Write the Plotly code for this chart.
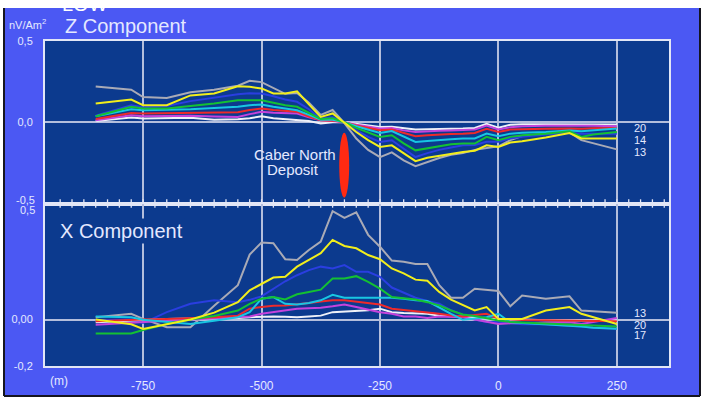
import plotly.graph_objects as go

# Station positions along the profile (m)
stations = [-850, -775, -750, -700, -650, -600, -550, -525, -500, -475, -450, -425,
            -400, -375, -350, -325, -300, -275, -250, -225, -200, -175, -150, -125,
            -100, -75, -50, -25, 0, 25, 50, 100, 150, 175, 200, 250]

# Z component, one list per channel (nV/Am2)
z_gray = [0.22, 0.20, 0.155, 0.15, 0.185, 0.20, 0.225, 0.255, 0.247, 0.21, 0.175, 0.18,
          0.12, 0.045, 0.075, -0.005, -0.10, -0.17, -0.215, -0.185, -0.235, -0.27, -0.245, -0.22,
          -0.20, -0.19, -0.17, -0.16, -0.148, -0.11, -0.085, -0.07, -0.062, -0.11, -0.13, -0.167]
z_yellow = [0.115, 0.14, 0.105, 0.105, 0.165, 0.177, 0.222, 0.218, 0.208, 0.177, 0.177, 0.19,
            0.11, 0.033, 0.054, -0.004, -0.06, -0.11, -0.152, -0.142, -0.19, -0.239, -0.218, -0.205,
            -0.193, -0.183, -0.175, -0.142, -0.152, -0.125, -0.117, -0.094, -0.066, -0.10, -0.10, -0.10]
z_blue = [0.04, 0.105, 0.093, 0.10, 0.13, 0.15, 0.173, 0.178, 0.177, 0.16, 0.14, 0.126,
          0.08, 0.023, 0.03, 0.0, -0.05, -0.09, -0.121, -0.111, -0.16, -0.214, -0.19, -0.17,
          -0.155, -0.142, -0.14, -0.12, -0.12, -0.10, -0.09, -0.075, -0.065, -0.07, -0.07, -0.07]
z_green = [0.037, 0.095, 0.085, 0.085, 0.10, 0.115, 0.136, 0.138, 0.136, 0.12, 0.105, 0.095,
           0.06, 0.02, 0.025, 0.0, -0.035, -0.065, -0.091, -0.08, -0.13, -0.173, -0.16, -0.145,
           -0.135, -0.131, -0.131, -0.09, -0.111, -0.09, -0.08, -0.07, -0.055, -0.09, -0.075, -0.06]
z_cyan = [0.037, 0.08, 0.074, 0.075, 0.08, 0.088, 0.095, 0.105, 0.109, 0.095, 0.085, 0.074,
          0.045, 0.015, 0.015, 0.0, -0.025, -0.045, -0.066, -0.054, -0.09, -0.121, -0.115, -0.108,
          -0.105, -0.10, -0.10, -0.07, -0.086, -0.07, -0.065, -0.06, -0.05, -0.055, -0.05, -0.039]
z_red = [0.02, 0.057, 0.054, 0.055, 0.058, 0.06, 0.062, 0.075, 0.085, 0.075, 0.068, 0.064,
         0.035, 0.012, 0.01, 0.0, -0.02, -0.035, -0.049, -0.045, -0.065, -0.086, -0.08, -0.075,
         -0.072, -0.07, -0.066, -0.04, -0.06, -0.045, -0.042, -0.04, -0.038, -0.04, -0.037, -0.035]
z_magenta = [0.012, 0.043, 0.037, 0.038, 0.04, 0.035, 0.033, 0.05, 0.064, 0.058, 0.055, 0.054,
             0.03, 0.012, 0.008, 0.0, -0.015, -0.028, -0.039, -0.035, -0.05, -0.06, -0.055, -0.052,
             -0.05, -0.049, -0.045, -0.02, -0.045, -0.03, -0.025, -0.022, -0.02, -0.022, -0.022, -0.025]
z_white = [0.008, 0.029, 0.023, 0.025, 0.027, 0.015, 0.018, 0.025, 0.037, 0.025, 0.018, 0.012,
           0.008, -0.008, 0.0, 0.0, -0.01, -0.02, -0.029, -0.028, -0.035, -0.045, -0.043, -0.04,
           -0.04, -0.039, -0.035, -0.01, -0.033, -0.015, -0.012, -0.012, -0.012, -0.012, -0.013, -0.014]

# X component, one list per channel (nV/Am2)
x_gray = [0.01, 0.025, 0.003, -0.033, -0.033, 0.06, 0.148, 0.28, 0.332, 0.329, 0.26, 0.257,
          0.30, 0.336, 0.467, 0.438, 0.462, 0.365, 0.314, 0.254, 0.249, 0.239, 0.239, 0.148,
          0.094, 0.094, 0.133, 0.128, 0.123, 0.057, 0.104, 0.09, 0.10, 0.039, 0.035, 0.029]
x_yellow = [0.0, -0.02, -0.04, -0.02, 0.0, 0.03, 0.075, 0.126, 0.155, 0.181, 0.184, 0.228,
            0.257, 0.286, 0.343, 0.317, 0.307, 0.278, 0.26, 0.22, 0.199, 0.172, 0.167, 0.119,
            0.086, 0.061, 0.039, 0.054, 0.003, 0.003, 0.003, 0.039, 0.054, 0.025, 0.01, -0.019]
x_blue = [-0.003, 0.0, -0.015, 0.032, 0.068, 0.083, 0.075, 0.085, 0.10, 0.133, 0.165, 0.191,
          0.213, 0.228, 0.22, 0.235, 0.206, 0.206, 0.184, 0.138, 0.115, 0.094, 0.08, 0.068,
          0.04, 0.02, 0.0, -0.01, -0.01, -0.015, -0.02, -0.02, -0.025, -0.03, -0.035, -0.04]
x_green = [-0.06, -0.06, -0.045, -0.019, 0.0, 0.015, 0.039, 0.068, 0.09, 0.097, 0.087, 0.109,
           0.119, 0.129, 0.177, 0.177, 0.187, 0.162, 0.133, 0.097, 0.092, 0.086, 0.075, 0.061,
           0.039, 0.022, 0.015, 0.005, -0.004, -0.01, -0.012, -0.015, -0.018, -0.022, -0.025, -0.03]
x_cyan = [0.013, 0.01, -0.001, -0.01, -0.019, -0.005, 0.01, 0.032, 0.09, 0.097, 0.068, 0.065,
          0.071, 0.083, 0.107, 0.094, 0.094, 0.094, 0.094, 0.094, 0.09, 0.083, 0.08, 0.051,
          0.025, -0.001, 0.005, 0.01, 0.025, -0.012, -0.015, -0.02, -0.025, -0.03, -0.035, -0.04]
x_red = [-0.007, 0.0, 0.0, 0.003, 0.005, 0.01, 0.017, 0.047, 0.054, 0.06, 0.061, 0.065,
         0.071, 0.078, 0.083, 0.083, 0.078, 0.071, 0.065, 0.047, 0.042, 0.036, 0.03, 0.025,
         0.018, 0.013, 0.02, 0.025, 0.003, 0.0, -0.002, -0.003, -0.005, -0.005, -0.006, -0.007]
x_magenta = [-0.022, -0.015, -0.01, -0.005, 0.0, 0.005, 0.01, 0.013, 0.025, 0.032, 0.04, 0.047,
             0.049, 0.051, 0.057, 0.065, 0.054, 0.043, 0.032, 0.025, 0.013, 0.013, 0.007, 0.013,
             0.01, 0.01, 0.0, -0.01, -0.019, -0.016, -0.015, -0.012, -0.012, -0.019, -0.01, 0.007]
x_white = [-0.012, -0.005, 0.0, 0.003, 0.005, 0.005, 0.007, 0.01, 0.012, 0.013, 0.012, 0.01,
           0.013, 0.017, 0.032, 0.034, 0.035, 0.04, 0.047, 0.032, 0.028, 0.025, 0.025, 0.017,
           0.015, 0.013, 0.01, 0.005, 0.003, 0.0, -0.002, -0.003, -0.004, -0.004, -0.004, -0.004]

# Axis ticks and labels
x_ticks = [-750, -500, -250, 0, 250]
x_tick_text = ["-750", "-500", "-250", "0", "250"]
z_ticks = [0.0, 0.5]
z_tick_text = ["0,0", "0,5"]
xc_ticks = [-0.2, 0.0]
xc_tick_text = ["-0,2", "0,00"]
z_end_labels = ["20", "14", "13"]
z_end_values = [-0.035, -0.11, -0.185]
x_end_labels = ["13", "20", "17"]
x_end_values = [0.03, -0.022, -0.066]
minor_step = 25
minor_start, minor_stop = -925, 350

BLUE_BG = "#4b58f3"
NAVY = "#0c3a8e"
FRAME = "#e2e6f6"
GRID = "#b4bedc"
TXT = "#e4e8ff"
FONT = "Liberation Sans, Arial, sans-serif"

series = [
    ("gray", "#a9aab6", z_gray, x_gray),
    ("blue", "#2a3ee0", z_blue, x_blue),
    ("white", "#eef0f8", z_white, x_white),
    ("magenta", "#c443dc", z_magenta, x_magenta),
    ("red", "#ee2a2a", z_red, x_red),
    ("cyan", "#18c6e2", z_cyan, x_cyan),
    ("green", "#14c033", z_green, x_green),
    ("yellow", "#f2ee1c", z_yellow, x_yellow),
]

fig = go.Figure()
for name, color, zv, xv in series:
    fig.add_trace(go.Scatter(x=stations, y=zv, mode="lines", name=name,
                             line=dict(color=color, width=2), xaxis="x", yaxis="y",
                             showlegend=False, hoverinfo="skip"))
    fig.add_trace(go.Scatter(x=stations, y=xv, mode="lines", name=name,
                             line=dict(color=color, width=2), xaxis="x2", yaxis="y2",
                             showlegend=False, hoverinfo="skip"))

# small station ticks along the bottom edge of the Z panel
tick_x = list(range(minor_start, minor_stop + 1, minor_step))
fig.add_trace(go.Scatter(x=tick_x, y=[-0.5] * len(tick_x), mode="markers",
                         marker=dict(symbol="line-ns-open", size=6, color=FRAME,
                                     line=dict(color=FRAME, width=1.3)),
                         xaxis="x", yaxis="y", cliponaxis=False,
                         showlegend=False, hoverinfo="skip"))

W, H = 703, 400
xdom = [45 / W, 669 / W]
split = 1 - 203.5 / H
ydom_top = [split, 1 - 41 / H]
ydom_bot = [1 - 366 / H, split]

axis_common = dict(showline=True, mirror=True, linecolor=FRAME, linewidth=2,
                   ticks="", automargin=False)

fig.update_layout(
    width=W, height=H,
    margin=dict(l=0, r=0, t=0, b=0, pad=0),
    paper_bgcolor="white",
    plot_bgcolor="rgba(0,0,0,0)",
    font=dict(family=FONT, color=TXT, size=12),
    xaxis=dict(domain=xdom, range=[-957, 360], anchor="y", tickvals=x_ticks,
               showticklabels=False, showgrid=True, gridcolor=GRID, gridwidth=1.5,
               zeroline=False, **axis_common),
    yaxis=dict(domain=ydom_top, range=[-0.5, 0.5], anchor="x", tickvals=z_ticks,
               ticktext=z_tick_text, showgrid=False, ticklabelstandoff=8,
               tickfont=dict(size=11, color=TXT), zeroline=True,
               zerolinecolor=GRID, zerolinewidth=1.5, **axis_common),
    xaxis2=dict(domain=xdom, range=[-957, 360], anchor="y2", tickvals=x_ticks,
                ticktext=x_tick_text, showgrid=True, gridcolor=GRID, gridwidth=1.5,
                zeroline=False, ticklabelstandoff=8, tickfont=dict(size=12, color=TXT),
                **axis_common),
    yaxis2=dict(domain=ydom_bot, range=[-0.2, 0.5], anchor="x2", tickvals=xc_ticks,
                ticktext=xc_tick_text, showgrid=False, ticklabelstandoff=8,
                tickfont=dict(size=11, color=TXT), zeroline=True,
                zerolinecolor=GRID, zerolinewidth=1.5, **axis_common),
)

shapes = [
    # outer blue panel
    dict(type="rect", xref="paper", yref="paper", x0=5 / W, x1=699 / W,
         y0=1 - 395 / H, y1=1 - 8 / H, fillcolor=BLUE_BG, line=dict(width=0), layer="below"),
    # plot areas
    dict(type="rect", xref="x domain", yref="y domain", x0=0, x1=1, y0=0, y1=1,
         fillcolor=NAVY, line=dict(width=0), layer="below"),
    dict(type="rect", xref="x2 domain", yref="y2 domain", x0=0, x1=1, y0=0, y1=1,
         fillcolor=NAVY, line=dict(width=0), layer="below"),
    # dark frame edges of the panel
    dict(type="line", xref="paper", yref="paper", x0=4 / W, x1=4 / W,
         y0=1 - 396 / H, y1=1 - 8 / H, line=dict(color="#15151f", width=2)),
    dict(type="line", xref="paper", yref="paper", x0=700 / W, x1=700 / W,
         y0=1 - 396 / H, y1=1 - 8 / H, line=dict(color="#15151f", width=2)),
    dict(type="line", xref="paper", yref="paper", x0=4 / W, x1=700 / W,
         y0=1 - 396 / H, y1=1 - 396 / H, line=dict(color="#15151f", width=2)),
    # ore body outline
    dict(type="circle", xref="x", yref="y", x0=-336, x1=-315, y0=-0.465, y1=-0.065,
         fillcolor="#ff2a12", line=dict(width=0), layer="above"),
]
fig.update_layout(shapes=shapes)

ann = [
    dict(text="LOW", x=60 / W, y=1 - 4 / H, xref="paper", yref="paper",
         xanchor="left", yanchor="middle", font=dict(size=20, color="#ffffff")),
    dict(text="nV/Am<sup>2</sup>", x=7 / W, y=1 - 24 / H, xref="paper", yref="paper",
         xanchor="left", yanchor="middle", font=dict(size=11, color=TXT)),
    dict(text="Z Component", x=63 / W, y=1 - 26 / H, xref="paper", yref="paper",
         xanchor="left", yanchor="middle", font=dict(size=20, color=TXT)),
    dict(text="X Component", x=58 / W, y=1 - 231 / H, xref="paper", yref="paper",
         xanchor="left", yanchor="middle", font=dict(size=20, color=TXT),
         bgcolor=NAVY),
    dict(text="Caber North", x=295 / W, y=1 - 154 / H, xref="paper", yref="paper",
         xanchor="center", yanchor="middle", font=dict(size=15, color=TXT)),
    dict(text="Deposit", x=293 / W, y=1 - 169 / H, xref="paper", yref="paper",
         xanchor="center", yanchor="middle", font=dict(size=15, color=TXT)),
    dict(text="-0,5", x=37 / W, y=-0.5, xref="paper", yref="y", xanchor="right",
         yanchor="middle", yshift=4, font=dict(size=11, color=TXT)),
    dict(text="0,5", x=37 / W, y=0.5, xref="paper", yref="y2", xanchor="right",
         yanchor="middle", yshift=-6, font=dict(size=11, color=TXT)),
    dict(text="(m)", x=59 / W, y=1 - 381 / H, xref="paper", yref="paper",
         xanchor="center", yanchor="middle", font=dict(size=12, color=TXT)),
]
for lab, val in zip(z_end_labels, z_end_values):
    ann.append(dict(text=lab, x=298, y=val, xref="x", yref="y", xanchor="center",
                    yanchor="middle", font=dict(size=11, color=TXT)))
for lab, val in zip(x_end_labels, x_end_values):
    ann.append(dict(text=lab, x=298, y=val, xref="x2", yref="y2", xanchor="center",
                    yanchor="middle", font=dict(size=11, color=TXT)))
for a in ann:
    a["showarrow"] = False
fig.update_layout(annotations=ann)

fig.write_html("out.html")
